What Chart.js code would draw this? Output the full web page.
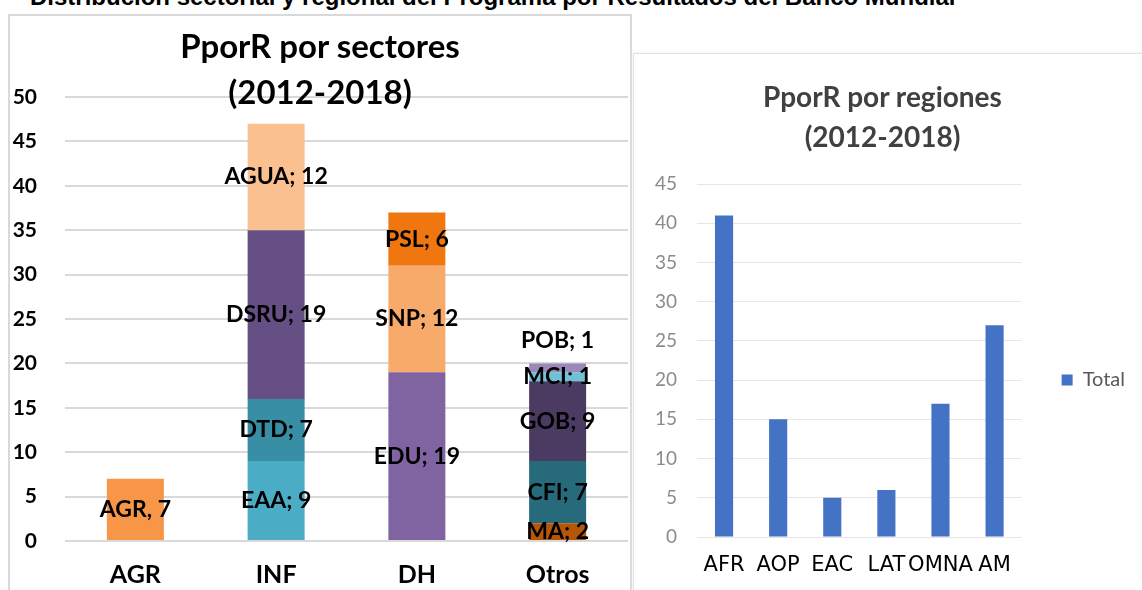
<!DOCTYPE html>
<html>
<head>
<meta charset="utf-8">
<script src="https://cdn.jsdelivr.net/npm/chart.js@4"></script>
<style>
  body { margin: 0; background: #fff; width: 1142px; height: 590px; overflow: hidden; position: relative; font-family: "Lato", sans-serif; }
  .heading { position: absolute; left: 30px; top: -15px; font: bold 24px "Liberation Sans", Arial, sans-serif; line-height: 24px; color: #000; white-space: nowrap; }
  .panelLeft { position: absolute; left: 8px; top: 14px; width: 620px; height: 600px; border: 2px solid #d9d9d9; }
  .panelRight { position: absolute; left: 633px; top: 53px; width: 520px; height: 600px; border: 1px solid #e2e2e2; box-shadow: 0 0 3px #eee; }
  .title { position: absolute; text-align: center; font-weight: bold; font-family: "Lato", sans-serif; }
  #tLeft { left: 0; width: 640px; top: 22px; font-size: 33px; line-height: 46px; color: #000; }
  #tRight { left: 628px; width: 509px; top: 76px; font-size: 28px; line-height: 40px; color: #404040; }
  canvas { position: absolute; }
  #sectorChart { left: 0; top: 0; }
  #regionChart { left: 633px; top: 53px; }
</style>
</head>
<body>
<div class="heading">Distribución sectorial y regional del Programa por Resultados del Banco Mundial</div>
<div class="panelLeft"></div>
<div class="panelRight"></div>
<canvas id="sectorChart" width="632" height="590"></canvas>
<canvas id="regionChart" width="509" height="537"></canvas>
<div class="title" id="tLeft">PporR por sectores<br>(2012-2018)</div>
<div class="title" id="tRight">PporR por regiones<br>(2012-2018)</div>
<script>
// sectors chart data
const sectors = ['AGR', 'INF', 'DH', 'Otros'];
const segmentNames = ['AGR', 'EAA', 'DTD', 'DSRU', 'AGUA', 'EDU', 'SNP', 'PSL', 'MA', 'CFI', 'GOB', 'MCI', 'POB'];
const segmentSector = ['AGR', 'INF', 'INF', 'INF', 'INF', 'DH', 'DH', 'DH', 'Otros', 'Otros', 'Otros', 'Otros', 'Otros'];
const segmentValues = [7, 9, 7, 19, 12, 19, 12, 6, 2, 7, 9, 1, 1];
const sectorTicks = [0, 5, 10, 15, 20, 25, 30, 35, 40, 45, 50];

// regions chart data
const regions = ['AFR', 'AOP', 'EAC', 'LAT', 'OMNA', 'AM'];
const regionTotals = [41, 15, 5, 6, 17, 27];
const regionTicks = [0, 5, 10, 15, 20, 25, 30, 35, 40, 45];

const segmentColors = ['#F79646', '#4BACC6', '#378EA5', '#654F85', '#FAC090', '#8064A2', '#F8AA6B', '#F07610',
                       '#B65708', '#276A7C', '#4B3A62', '#6FC1D6', '#9B87B8'];
// POB label sits above its bar
const labelShift = { POB: -27 };

const segLabels = {
    id: 'segLabels',
    afterDatasetsDraw(chart) {
        const ctx = chart.ctx;
        ctx.save();
        ctx.font = 'bold 23px Lato';
        ctx.fillStyle = '#000';
        ctx.textAlign = 'center';
        ctx.textBaseline = 'middle';
        chart.data.datasets.forEach((ds, i) => {
            const meta = chart.getDatasetMeta(i);
            meta.data.forEach((bar, j) => {
                const v = ds.data[j];
                if (v === null) return;
                const sep = ds.label === 'AGR' ? ', ' : '; ';
                const y = (bar.y + bar.base) / 2 + (labelShift[ds.label] || 0);
                ctx.fillText(ds.label + sep + v, bar.x, y);
            });
        });
        ctx.restore();
    }
};

new Chart(document.getElementById('sectorChart'), {
    type: 'bar',
    data: {
        labels: sectors,
        datasets: segmentNames.map((name, i) => ({
            label: name,
            data: sectors.map(s => s === segmentSector[i] ? segmentValues[i] : null),
            backgroundColor: segmentColors[i],
            borderWidth: 0,
            barPercentage: 1,
            categoryPercentage: 0.405
        }))
    },
    options: {
        responsive: false,
        animation: false,
        layout: { padding: { top: 97, right: 4, bottom: 0, left: 0 } },
        plugins: { legend: { display: false }, tooltip: { enabled: false } },
        scales: {
            x: {
                stacked: true,
                grid: { display: false },
                border: { display: false },
                ticks: { color: '#000', font: { family: 'Lato', size: 25, weight: 'bold' }, padding: 11, maxRotation: 0, autoSkip: false },
                afterFit: s => { s.height = 49; }
            },
            y: {
                stacked: true,
                min: 0,
                max: 50,
                afterBuildTicks: s => { s.ticks = sectorTicks.map(v => ({ value: v })); },
                grid: { color: '#d9d9d9', lineWidth: 2, drawTicks: false },
                border: { display: false },
                ticks: { color: '#000', font: { family: 'Lato', size: 21, weight: 'bold' }, padding: 28 },
                afterFit: s => { s.width = 65; }
            }
        }
    },
    plugins: [segLabels]
});

new Chart(document.getElementById('regionChart'), {
    type: 'bar',
    data: {
        labels: regions,
        datasets: [{
            label: 'Total',
            data: regionTotals,
            backgroundColor: '#4472C4',
            borderWidth: 0,
            barPercentage: 1,
            categoryPercentage: 0.335
        }]
    },
    options: {
        responsive: false,
        animation: false,
        layout: { padding: { top: 131, right: 7, bottom: 14, left: 0 } },
        plugins: {
            legend: {
                position: 'right',
                labels: {
                    boxWidth: 11,
                    boxHeight: 11,
                    padding: 40,
                    color: '#595959',
                    font: { family: 'Lato', size: 20 }
                }
            },
            tooltip: { enabled: false }
        },
        scales: {
            x: {
                grid: { display: false },
                border: { display: false },
                ticks: { color: '#000', font: { family: 'DejaVu Sans', size: 21, lineHeight: 1.1 }, padding: 9, maxRotation: 0, minRotation: 0, autoSkip: false },
                afterFit: s => { s.height = 39; }
            },
            y: {
                min: 0,
                max: 45,
                afterBuildTicks: s => { s.ticks = regionTicks.map(v => ({ value: v })); },
                grid: { color: '#e6e6e6', lineWidth: 1, drawTicks: false },
                border: { display: false },
                ticks: { color: '#8c8c8c', font: { family: 'Lato', size: 19 }, padding: 20 },
                afterFit: s => { s.width = 64; }
            }
        }
    }
});
</script>
</body>
</html>
